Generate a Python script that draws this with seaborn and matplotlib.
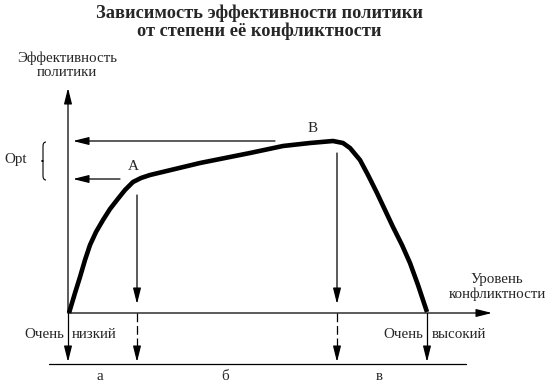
import numpy as np
import pandas as pd
import matplotlib
matplotlib.use("Agg")
import matplotlib.pyplot as plt
from matplotlib.path import Path
from matplotlib.patches import PathPatch
import seaborn as sns

# curve (figure pixel coordinates, y grows downward)
curve_x = [69, 75, 80, 85, 90, 96, 103, 110, 117, 125, 133, 141, 150, 175, 200,
           225, 250, 283, 310, 333, 343, 350, 360, 368, 377, 385, 393, 402, 410, 418, 427]
curve_y = [313, 293, 277, 260, 245, 232, 220, 209, 200, 190, 182, 178, 175, 169, 163,
           158, 153, 146, 143, 141, 143, 148, 160, 175, 193, 210, 227, 245, 263, 285, 312]

# key points A and B
point_labels = ["A", "B"]
point_x = [137, 337]
point_y = [179, 141]

# conflict levels on the horizontal axis
level_x = [68, 137, 337, 427]
zone_labels = ["а", "б", "в"]
zone_x = [100, 225, 379]

title = "Зависимость эффективности политики\nот степени её конфликтности"
y_label = "Эффективность\nполитики"
x_label = "Уровень\nконфликтности"

sns.set_theme(style="white")
plt.rcParams["font.family"] = ["Liberation Serif", "DejaVu Serif"]

fig = plt.figure(figsize=(5.5, 3.85), dpi=100)
ax = fig.add_axes([0, 0, 1, 1])

x0, y0 = 68, 313
fs = 10.8
thin = dict(arrowstyle="-|>,head_length=0.8,head_width=0.2", color="black",
            lw=0.9, shrinkA=0, shrinkB=0)

# the curve
df = pd.DataFrame({"x": curve_x, "y": curve_y})
sns.lineplot(data=df, x="x", y="y", ax=ax, color="black", linewidth=3.3,
             sort=False, solid_capstyle="butt")
ax.set_xlim(0, 550)
ax.set_ylim(385, 0)
ax.axis("off")

# axes with arrows
ax.annotate("", xy=(x0, 88), xytext=(x0, y0), arrowprops=thin)
ax.annotate("", xy=(492, y0), xytext=(x0, y0), arrowprops=thin)

# arrows from A and B
for lab, px, py, hx, top in zip(point_labels, point_x, point_y, [120, 275], [195, 153]):
    ax.annotate("", xy=(73, py), xytext=(hx, py), arrowprops=thin)
    ax.annotate("", xy=(px, 304), xytext=(px, top), arrowprops=thin)
ax.text(133, 166, "A", fontsize=11, ha="center", va="center")
ax.text(313, 129, "B", fontsize=11, ha="center", va="center")

# Opt with brace
ax.text(16, 160, "Opt", fontsize=fs, ha="center", va="center")
bx, btop, bbot = 43, 142, 180
bmid = (btop + bbot) / 2
verts = [(bx + 3, btop), (bx, btop), (bx, btop + 4), (bx, bmid - 5),
         (bx, bmid - 1), (bx, bmid), (bx - 3, bmid),
         (bx, bmid), (bx, bmid + 1), (bx, bmid + 5),
         (bx, bbot - 4), (bx, bbot), (bx + 3, bbot)]
codes = [Path.MOVETO, Path.CURVE3, Path.CURVE3, Path.LINETO,
         Path.CURVE3, Path.CURVE3, Path.CURVE3,
         Path.MOVETO, Path.CURVE3, Path.LINETO,
         Path.LINETO, Path.CURVE3, Path.CURVE3]
ax.add_patch(PathPatch(Path(verts, codes), fill=False, lw=0.8, color="black"))

# axis labels
ax.text(67, 65, y_label, fontsize=fs, ha="center", va="center", linespacing=1.1)
ax.text(497, 287, x_label, fontsize=fs, ha="center", va="center", linespacing=1.1)

# title
ax.text(259, 22, title, fontsize=13.2, fontweight="bold", ha="center", va="center",
        linespacing=1.05)

# level arrows below the axis
for i, lx in enumerate(level_x):
    ls = "-" if i in (0, len(level_x) - 1) else (0, (7, 3))
    ax.plot([lx, lx], [y0, 352], color="black", lw=0.9, linestyle=ls)
    ax.annotate("", xy=(lx, 362), xytext=(lx, 350), arrowprops=thin)

ax.plot([49, 466], [364, 364], color="black", lw=0.9)

white = dict(facecolor="white", edgecolor="none", pad=0.5)
ax.text(64, 335, "Очень", fontsize=fs, ha="right", va="center", bbox=white)
ax.text(72, 335, "низкий", fontsize=fs, ha="left", va="center", bbox=white)
ax.text(423, 335, "Очень", fontsize=fs, ha="right", va="center", bbox=white)
ax.text(432, 335, "высокий", fontsize=fs, ha="left", va="center", bbox=white)

for lab, zx in zip(zone_labels, zone_x):
    ax.text(zx, 377, lab, fontsize=fs, ha="center", va="center")

fig.savefig("out.png", dpi=100, facecolor="white")
